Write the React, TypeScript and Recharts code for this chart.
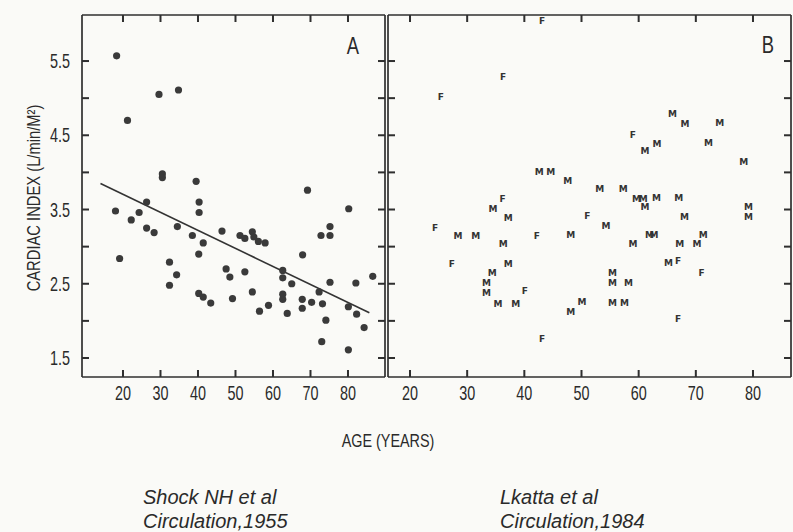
import { ScatterChart, Scatter, XAxis, YAxis } from 'recharts';

// axis ticks
const ageTicks = [20, 30, 40, 50, 60, 70, 80];
const indexTicks = [1.5, 2, 2.5, 3, 3.5, 4, 4.5, 5, 5.5];
const indexLabels = [1.5, 2.5, 3.5, 4.5, 5.5];

// panel A - Shock NH et al, 1955
const shockAge = [
  18.3, 21.2, 29.6, 34.8, 30.5, 30.5, 39.5, 18.0, 19.1, 22.2, 24.3, 26.3, 26.3, 28.3,
  34.5, 38.5, 40.3, 40.3, 41.4, 40.2, 32.4, 34.3, 32.4, 40.2, 41.4, 43.4, 46.4, 47.5,
  48.5, 52.5, 49.2, 51.2, 52.5, 54.5, 54.9, 56.1, 57.9, 54.5, 56.4, 58.8, 62.6, 62.6,
  62.6, 62.6, 63.8, 65.0, 67.9, 69.2, 67.8, 67.8, 70.3, 72.3, 73.2, 74.1, 73.0, 72.8,
  75.2, 75.2, 75.2, 80.2, 80.1, 82.3, 80.1, 82.1, 84.3, 86.6,
];
const shockIndex = [
  5.57, 4.70, 5.05, 5.11, 3.98, 3.93, 3.88, 3.48, 2.84, 3.36, 3.46, 3.60, 3.25, 3.19,
  3.27, 3.15, 3.60, 3.46, 3.05, 2.90, 2.79, 2.62, 2.48, 2.37, 2.32, 2.24, 3.21, 2.70,
  2.59, 2.66, 2.30, 3.15, 3.11, 3.20, 3.13, 3.07, 3.05, 2.39, 2.13, 2.21, 2.68, 2.58,
  2.36, 2.29, 2.10, 2.50, 2.89, 3.76, 2.29, 2.17, 2.25, 2.39, 2.23, 2.01, 1.72, 3.15,
  3.15, 3.27, 2.52, 3.51, 2.19, 2.09, 1.61, 2.51, 1.91, 2.60,
];
const fitAge = [14.0, 85.7];
const fitIndex = [3.85, 2.11];

// panel B - Lakatta et al, 1984
const maleAge = [
  65.9, 68.1, 74.2, 72.2, 61.1, 63.2, 78.4, 42.6, 44.6, 47.6, 53.2, 57.3, 59.6, 60.8,
  63.1, 67.0, 61.1, 79.2, 79.2, 34.5, 37.2, 68.0, 54.3, 28.4, 31.5, 48.1, 61.9, 62.7,
  71.3, 36.3, 59.0, 67.2, 70.2, 37.2, 65.2, 34.4, 33.4, 33.4, 55.4, 55.4, 58.2, 35.4,
  38.5, 50.1, 55.4, 57.5, 48.1,
];
const maleIndex = [
  4.78, 4.65, 4.67, 4.40, 4.29, 4.38, 4.14, 4.01, 4.01, 3.89, 3.77, 3.77, 3.64, 3.64,
  3.65, 3.65, 3.53, 3.54, 3.40, 3.51, 3.39, 3.40, 3.28, 3.14, 3.14, 3.15, 3.15, 3.15,
  3.15, 3.03, 3.03, 3.03, 3.03, 2.77, 2.78, 2.64, 2.51, 2.37, 2.65, 2.51, 2.51, 2.23,
  2.23, 2.25, 2.24, 2.24, 2.12,
];
const femaleAge = [43.1, 36.3, 25.4, 59.0, 36.2, 51.0, 24.4, 42.2, 27.3, 40.1, 66.9, 71.0, 66.9, 43.1];
const femaleIndex = [6.04, 5.28, 5.01, 4.51, 3.64, 3.41, 3.25, 3.14, 2.77, 2.40, 2.80, 2.64, 2.03, 1.76];

const toPoints = (xs: number[], ys: number[]) => xs.map((x, i) => ({ x, y: ys[i] }));

const INK = '#2f2f2f';
const TXT = '#2a2a2a';
const SANS = "'Liberation Sans', Arial, sans-serif";
const Y_DOMAIN: [number, number] = [1.244, 6.12];
const TICK = 7; // inward tick length, px

// condensed-looking text: regular sans squeezed horizontally
const Narrow = ({ x, y, size, sx = 0.72, anchor = 'middle', children }: any) => (
  <text transform={`translate(${x},${y}) scale(${sx},1)`} textAnchor={anchor} fontSize={size}
    fontFamily={SANS} fill={TXT}>
    {children}
  </text>
);

// tick marks drawn as small filled rects pointing into the plot
const BottomTick = (props: any) => {
  const { x, y, payload } = props;
  return (
    <g>
      <rect x={x - 1} y={y - TICK} width={2} height={TICK} fill={INK} />
      <Narrow x={x} y={y + 23} size={20}>{payload.value}</Narrow>
    </g>
  );
};

const TopTick = (props: any) => <rect x={props.x - 1} y={props.y} width={2} height={TICK} fill={INK} />;

const makeLeftTick = (labels: boolean) => (props: any) => {
  const { x, y, payload } = props;
  return (
    <g>
      <rect x={x} y={y - 1} width={TICK} height={2} fill={INK} />
      {labels && indexLabels.includes(payload.value) && (
        <Narrow x={x - 12} y={y + 7} size={20} anchor="end">{payload.value.toFixed(1)}</Narrow>
      )}
    </g>
  );
};

const RightTick = (props: any) => <rect x={props.x - TICK} y={props.y - 1} width={TICK} height={2} fill={INK} />;

const frameLine = { stroke: INK, strokeWidth: 1.7 };
const noShape = () => <g />;

function Frame({ xDomain, leftWidth, labels }: { xDomain: [number, number]; leftWidth: number; labels: boolean }) {
  const common = { type: 'number' as const, allowDataOverflow: true, interval: 0 as const, tickSize: 0, tickMargin: 0, tickLine: false, axisLine: frameLine };
  return [
    <XAxis key="xb" xAxisId="b" dataKey="x" domain={xDomain} ticks={ageTicks} height={24} tick={BottomTick} {...common} />,
    <XAxis key="xt" xAxisId="t" orientation="top" dataKey="x" domain={xDomain} ticks={ageTicks} height={1} tick={TopTick} {...common} />,
    <YAxis key="yl" yAxisId="l" dataKey="y" domain={Y_DOMAIN} ticks={indexTicks} width={leftWidth} tick={makeLeftTick(labels)} {...common} />,
    <YAxis key="yr" yAxisId="r" orientation="right" dataKey="y" domain={Y_DOMAIN} ticks={indexTicks} width={1} tick={RightTick} {...common} />,
    // an empty series bound to the mirrored top/right axes
    <Scatter key="mirror" xAxisId="t" yAxisId="r" data={toPoints(ageTicks, indexTicks)} isAnimationActive={false} shape={noShape} />,
  ];
}

const Dot = (p: any) => <circle cx={p.cx} cy={p.cy} r={3.6} fill="#3a3a3a" />;
const Letter = (ch: string) => (p: any) => (
  <text x={p.cx} y={p.cy + 3} textAnchor="middle" fontSize={9} fontWeight="bold"
    fontFamily="'DejaVu Sans', sans-serif" fill="#333">{ch}</text>
);

export default function App() {
  return (
    <div style={{ position: 'absolute', left: 0, top: 0, width: 793, height: 532, background: '#fafaf7', overflow: 'hidden' }}>
      <div style={{ position: 'absolute', left: 0, top: 0 }}>
        <ScatterChart width={400} height={420} margin={{ top: 14, right: 14, bottom: 19, left: 0 }}>
          {Frame({ xDomain: [9.07, 89.87], leftWidth: 82, labels: true })}
          <Scatter xAxisId="b" yAxisId="l" data={toPoints(fitAge, fitIndex)} isAnimationActive={false}
            line={{ stroke: '#333', strokeWidth: 1.6 }} lineType="joint" shape={noShape} />
          <Scatter xAxisId="b" yAxisId="l" data={toPoints(shockAge, shockIndex)} isAnimationActive={false} shape={Dot} />
        </ScatterChart>
      </div>
      <div style={{ position: 'absolute', left: 380, top: 0 }}>
        <ScatterChart width={413} height={420} margin={{ top: 14, right: 1, bottom: 19, left: 0 }}>
          {Frame({ xDomain: [16.15, 86.65], leftWidth: 8, labels: false })}
          <Scatter xAxisId="b" yAxisId="l" data={toPoints(maleAge, maleIndex)} isAnimationActive={false} shape={Letter('M')} />
          <Scatter xAxisId="b" yAxisId="l" data={toPoints(femaleAge, femaleIndex)} isAnimationActive={false} shape={Letter('F')} />
        </ScatterChart>
      </div>
      <svg width={793} height={532} style={{ position: 'absolute', left: 0, top: 0, pointerEvents: 'none' }}>
        <Narrow x={353} y={54} size={23} sx={0.8}>A</Narrow>
        <Narrow x={768} y={53} size={23} sx={0.8}>B</Narrow>
        <text transform="translate(40,198) rotate(-90) scale(0.82,1)" textAnchor="middle" fontSize={18}
          fontFamily={SANS} fill={TXT}>
          CARDIAC INDEX (L/min/M²)
        </text>
        <Narrow x={388} y={447} size={18} sx={0.8}>AGE (YEARS)</Narrow>
        <g fontFamily={SANS} fontStyle="italic" fontSize={20} fill={TXT}>
          <text x={143} y={504}>Shock NH et al</text>
          <text x={143} y={528}>Circulation,1955</text>
          <text x={500} y={504}>Lkatta et al</text>
          <text x={500} y={528}>Circulation,1984</text>
        </g>
      </svg>
    </div>
  );
}
